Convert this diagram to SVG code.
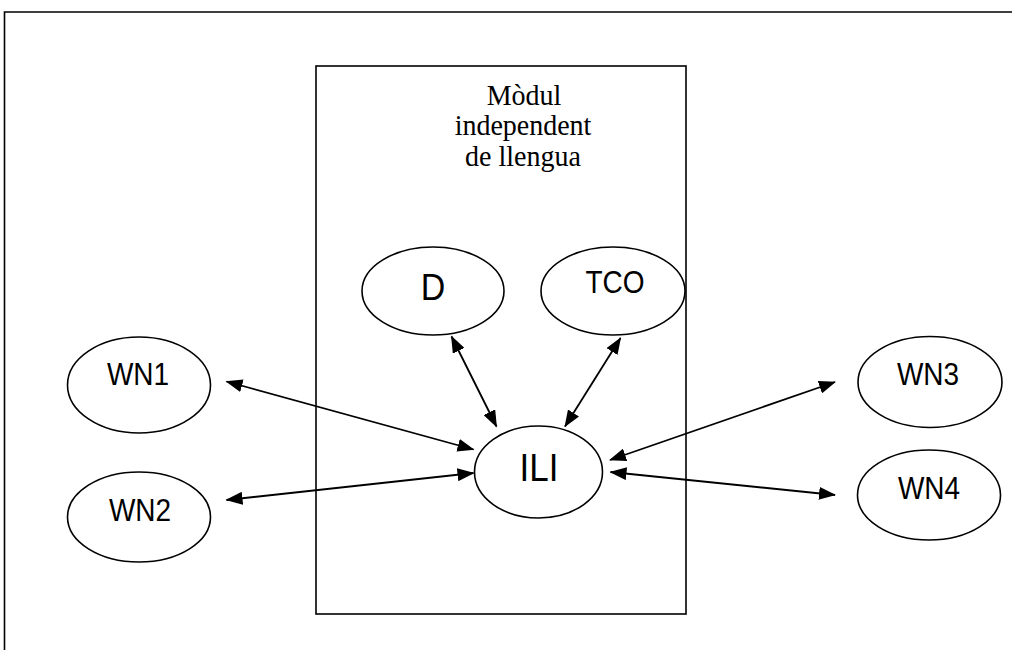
<svg xmlns="http://www.w3.org/2000/svg" width="1012" height="650" viewBox="0 0 1012 650">
  <style>
    .frame { fill: none; stroke: #000; stroke-width: 1.6; }
    .node ellipse { fill: #fff; stroke: #000; stroke-width: 1.6; }
    .node text { font-family: "Liberation Sans", Arial, sans-serif; fill: #000; text-anchor: middle; }
    .title { font-family: "Liberation Serif", "Times New Roman", serif; font-size: 28px; fill: #000; text-anchor: middle; }
    .link { stroke: #000; stroke-width: 1.8; fill: none; marker-start: url(#head); marker-end: url(#head); }
  </style>
  <defs>
    <marker id="head" viewBox="0 0 17 13" refX="16" refY="6.5" markerWidth="17" markerHeight="13" markerUnits="userSpaceOnUse" orient="auto-start-reverse">
      <path d="M0,0 L17,6.5 L0,13 Z" fill="#000"/>
    </marker>
  </defs>

  <rect width="1012" height="650" fill="#fff"/>

  <!-- page frame (top and left edges visible) -->
  <path class="frame" d="M4.5,650 V12 H1012"/>

  <!-- language-independent module -->
  <g id="module">
    <rect class="frame" x="316" y="66" width="370" height="548"/>
    <text class="title" transform="translate(524,105) scale(1,1.04)">Mòdul</text>
    <text class="title" transform="translate(523,135) scale(1,1.04)">independent</text>
    <text class="title" transform="translate(523,166) scale(1,1.04)">de llengua</text>
  </g>

  <g id="connectors">
    <line class="link" x1="473.5" y1="449.5" x2="226.5" y2="381.5"/>
    <line class="link" x1="473.5" y1="473" x2="226.5" y2="500"/>
    <line class="link" x1="496.5" y1="426.5" x2="451.5" y2="336.5"/>
    <line class="link" x1="565" y1="426.5" x2="620.5" y2="338"/>
    <line class="link" x1="610" y1="460" x2="835" y2="382"/>
    <line class="link" x1="610.5" y1="472" x2="835" y2="495"/>
  </g>

  <g id="node-D" class="node">
    <ellipse cx="433" cy="291" rx="71" ry="44"/>
    <text transform="translate(433,300) scale(1,1.1)" font-size="34">D</text>
  </g>

  <g id="node-TCO" class="node">
    <ellipse cx="613" cy="291" rx="72" ry="44"/>
    <text transform="translate(615,293) scale(1,1.1)" font-size="28">TCO</text>
  </g>

  <g id="node-ILI" class="node">
    <ellipse cx="538.5" cy="472" rx="64" ry="46"/>
    <text transform="translate(539,481) scale(1,1.1)" font-size="35">ILI</text>
  </g>

  <g id="node-WN1" class="node">
    <ellipse cx="139" cy="385" rx="71.5" ry="48"/>
    <text transform="translate(138,385) scale(1,1.1)" font-size="28">WN1</text>
  </g>

  <g id="node-WN2" class="node">
    <ellipse cx="139" cy="517" rx="71.5" ry="45"/>
    <text transform="translate(140,521) scale(1,1.1)" font-size="28">WN2</text>
  </g>

  <g id="node-WN3" class="node">
    <ellipse cx="930" cy="382" rx="72" ry="45.5"/>
    <text transform="translate(928,385) scale(1,1.1)" font-size="28">WN3</text>
  </g>

  <g id="node-WN4" class="node">
    <ellipse cx="929" cy="495" rx="71.5" ry="45"/>
    <text transform="translate(929,499) scale(1,1.1)" font-size="28">WN4</text>
  </g>
</svg>
